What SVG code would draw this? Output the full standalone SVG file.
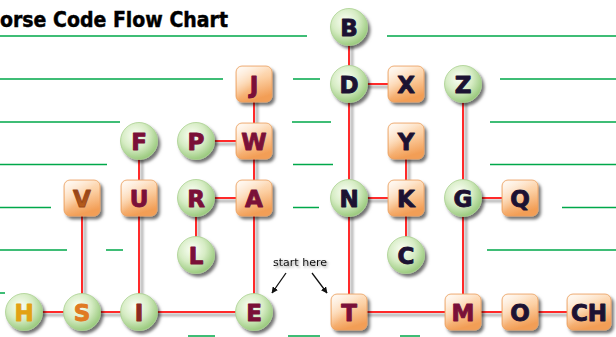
<svg xmlns="http://www.w3.org/2000/svg" width="616" height="337" viewBox="0 0 616 337">
<style>
.g{stroke:#00a84a;stroke-width:1.6;fill:none}
.r{stroke:#ff2a2a;stroke-width:2;fill:none}
.rs{stroke:#b8b8b8;stroke-width:3;fill:none}
.lt{font-family:"DejaVu Sans","Verdana",sans-serif;font-weight:bold;font-size:23px;text-anchor:middle;stroke-width:0.9;stroke-linejoin:round}
.dk{fill:#1c1232;stroke:#1c1232}
.mr{fill:#7a1038;stroke:#7a1038}
.c{fill:url(#cg);stroke:#a9d08f;stroke-width:0.8}
.s{fill:url(#sg);stroke:#eaa060;stroke-width:0.8}
.hl{fill:url(#hl)}
</style>
<defs>
<radialGradient id="cg" cx="0.4" cy="0.35" r="0.65">
<stop offset="0" stop-color="#fbfff6"/>
<stop offset="0.55" stop-color="#d6ecc4"/>
<stop offset="1" stop-color="#9ccb80"/>
</radialGradient>
<linearGradient id="sg" x1="0" y1="0" x2="0.3" y2="1">
<stop offset="0" stop-color="#fff1e2"/>
<stop offset="0.5" stop-color="#fcd0a4"/>
<stop offset="1" stop-color="#f29e56"/>
</linearGradient>
<linearGradient id="hl" x1="0" y1="0" x2="1" y2="1">
<stop offset="0" stop-color="#ffffff" stop-opacity="0.7"/>
<stop offset="0.5" stop-color="#ffffff" stop-opacity="0"/>
</linearGradient>
<linearGradient id="vg" x1="0" y1="0" x2="0" y2="1">
<stop offset="0" stop-color="#8a3a14"/>
<stop offset="1" stop-color="#c2661e"/>
</linearGradient>
<filter id="sh" x="-30%" y="-30%" width="170%" height="170%">
<feDropShadow dx="2.5" dy="3" stdDeviation="1.6" flood-color="#000" flood-opacity="0.55"/>
</filter>
<filter id="ts" x="-20%" y="-40%" width="140%" height="200%">
<feDropShadow dx="1.5" dy="1.5" stdDeviation="1.2" flood-color="#000" flood-opacity="0.45"/>
</filter>
<filter id="bl" x="-10%" y="-10%" width="120%" height="120%">
<feGaussianBlur stdDeviation="0.8"/>
</filter>
<marker id="ah" viewBox="0 0 10 10" refX="9" refY="5" markerWidth="5" markerHeight="5" orient="auto">
<path d="M0,0 L10,5 L0,10 z" fill="#111"/>
</marker>
</defs>
<rect width="616" height="337" fill="#ffffff"/>
<g id="title">
<text x="0" y="26.5" font-family="DejaVu Sans, Verdana, sans-serif" font-weight="bold" font-size="22" textLength="228" lengthAdjust="spacingAndGlyphs" fill="#000" stroke="#000" stroke-width="0.5">orse Code Flow Chart</text>
</g>
<g id="gridlines">
<path class="g" d="M0,36H307M387,36H616M0,79H223M293,79H320M500,79H616M0,122H120M292,122H331M490,122H616M0,164.5H107M293,164.5H333M490,164.5H616M0,207.5H51M293,207.5H319M562,207.5H616M0,250H67M106,250H123M487,250H616M0,293H5M188,336H215M288,336H320M400,336H420"/>
</g>
<g id="connectors">
<g filter="url(#bl)" transform="translate(3,3)">
<path class="rs" d="M349,27V312M254,84V312M463,84V312M139,141V312M82,198V312M196,198V255M406,141V255M349,84H406M196,141H254M196,198H254M349,198H406M463,198H520M24,312H254M349,312H589"/>
</g>
<line id="e-B-D" class="r" x1="349" y1="27" x2="349" y2="84"/>
<line id="e-D-N" class="r" x1="349" y1="84" x2="349" y2="198"/>
<line id="e-N-T" class="r" x1="349" y1="198" x2="349" y2="312"/>
<line id="e-D-X" class="r" x1="349" y1="84" x2="406" y2="84"/>
<line id="e-J-W" class="r" x1="254" y1="84" x2="254" y2="141"/>
<line id="e-W-A" class="r" x1="254" y1="141" x2="254" y2="198"/>
<line id="e-A-E" class="r" x1="254" y1="198" x2="254" y2="312"/>
<line id="e-P-W" class="r" x1="196" y1="141" x2="254" y2="141"/>
<line id="e-R-A" class="r" x1="196" y1="198" x2="254" y2="198"/>
<line id="e-R-L" class="r" x1="196" y1="198" x2="196" y2="255"/>
<line id="e-Z-G" class="r" x1="463" y1="84" x2="463" y2="198"/>
<line id="e-G-M" class="r" x1="463" y1="198" x2="463" y2="312"/>
<line id="e-G-Q" class="r" x1="463" y1="198" x2="520" y2="198"/>
<line id="e-Y-K" class="r" x1="406" y1="141" x2="406" y2="198"/>
<line id="e-K-C" class="r" x1="406" y1="198" x2="406" y2="255"/>
<line id="e-N-K" class="r" x1="349" y1="198" x2="406" y2="198"/>
<line id="e-F-U" class="r" x1="139" y1="141" x2="139" y2="198"/>
<line id="e-U-I" class="r" x1="139" y1="198" x2="139" y2="312"/>
<line id="e-V-S" class="r" x1="82" y1="198" x2="82" y2="312"/>
<line id="e-H-S" class="r" x1="24" y1="312" x2="82" y2="312"/>
<line id="e-S-I" class="r" x1="82" y1="312" x2="139" y2="312"/>
<line id="e-I-E" class="r" x1="139" y1="312" x2="254" y2="312"/>
<line id="e-T-M" class="r" x1="349" y1="312" x2="463" y2="312"/>
<line id="e-M-O" class="r" x1="463" y1="312" x2="520" y2="312"/>
<line id="e-O-CH" class="r" x1="520" y1="312" x2="589" y2="312"/>
<line id="a1" x1="286" y1="273" x2="272" y2="293" stroke="#111" stroke-width="1.3" marker-end="url(#ah)"/>
<line id="a2" x1="312" y1="273" x2="327" y2="293" stroke="#111" stroke-width="1.3" marker-end="url(#ah)"/>
</g>
<g id="start-label">
<text x="300" y="266" font-family="DejaVu Sans, Verdana, sans-serif" font-size="11" text-anchor="middle" fill="#111" filter="url(#ts)">start here</text>
</g>
<g id="node-B"><circle class="c" cx="349" cy="27" r="18.5" filter="url(#sh)"/><text class="lt dk" x="349" y="35.5">B</text></g>
<g id="node-D"><circle class="c" cx="349" cy="84" r="18.5" filter="url(#sh)"/><text class="lt dk" x="349" y="92.5">D</text></g>
<g id="node-X"><rect class="s" x="388" y="66" width="36" height="36" rx="6" filter="url(#sh)"/><rect class="hl" x="389" y="67" width="34" height="34" rx="5"/><text class="lt dk" x="406" y="92.5">X</text></g>
<g id="node-Z"><circle class="c" cx="463" cy="84" r="18.5" filter="url(#sh)"/><text class="lt dk" x="463" y="92.5">Z</text></g>
<g id="node-J"><rect class="s" x="236" y="66" width="36" height="36" rx="6" filter="url(#sh)"/><rect class="hl" x="237" y="67" width="34" height="34" rx="5"/><text class="lt mr" x="254" y="92.5">J</text></g>
<g id="node-F"><circle class="c" cx="139" cy="141" r="18.5" filter="url(#sh)"/><text class="lt mr" x="139" y="149.5">F</text></g>
<g id="node-P"><circle class="c" cx="196" cy="141" r="18.5" filter="url(#sh)"/><text class="lt mr" x="196" y="149.5">P</text></g>
<g id="node-W"><rect class="s" x="236" y="123" width="36" height="36" rx="6" filter="url(#sh)"/><rect class="hl" x="237" y="124" width="34" height="34" rx="5"/><text class="lt mr" x="254" y="149.5">W</text></g>
<g id="node-Y"><rect class="s" x="388" y="123" width="36" height="36" rx="6" filter="url(#sh)"/><rect class="hl" x="389" y="124" width="34" height="34" rx="5"/><text class="lt dk" x="406" y="149.5">Y</text></g>
<g id="node-V"><rect class="s" x="64" y="180" width="36" height="36" rx="6" filter="url(#sh)"/><rect class="hl" x="65" y="181" width="34" height="34" rx="5"/><text class="lt" fill="url(#vg)" stroke="#9a4818" x="82" y="206.5">V</text></g>
<g id="node-U"><rect class="s" x="121" y="180" width="36" height="36" rx="6" filter="url(#sh)"/><rect class="hl" x="122" y="181" width="34" height="34" rx="5"/><text class="lt mr" x="139" y="206.5">U</text></g>
<g id="node-R"><circle class="c" cx="196" cy="198" r="18.5" filter="url(#sh)"/><text class="lt mr" x="196" y="206.5">R</text></g>
<g id="node-A"><rect class="s" x="236" y="180" width="36" height="36" rx="6" filter="url(#sh)"/><rect class="hl" x="237" y="181" width="34" height="34" rx="5"/><text class="lt mr" x="254" y="206.5">A</text></g>
<g id="node-N"><circle class="c" cx="349" cy="198" r="18.5" filter="url(#sh)"/><text class="lt dk" x="349" y="206.5">N</text></g>
<g id="node-K"><rect class="s" x="388" y="180" width="36" height="36" rx="6" filter="url(#sh)"/><rect class="hl" x="389" y="181" width="34" height="34" rx="5"/><text class="lt dk" x="406" y="206.5">K</text></g>
<g id="node-G"><circle class="c" cx="463" cy="198" r="18.5" filter="url(#sh)"/><text class="lt dk" x="463" y="206.5">G</text></g>
<g id="node-Q"><rect class="s" x="502" y="180" width="36" height="36" rx="6" filter="url(#sh)"/><rect class="hl" x="503" y="181" width="34" height="34" rx="5"/><text class="lt dk" x="520" y="206.5">Q</text></g>
<g id="node-L"><circle class="c" cx="196" cy="255" r="18.5" filter="url(#sh)"/><text class="lt mr" x="196" y="263.5">L</text></g>
<g id="node-C"><circle class="c" cx="406" cy="255" r="18.5" filter="url(#sh)"/><text class="lt dk" x="406" y="263.5">C</text></g>
<g id="node-H"><circle class="c" cx="24" cy="312" r="18.5" filter="url(#sh)"/><text class="lt" fill="#e2a214" stroke="#e2a214" x="24" y="320.5">H</text></g>
<g id="node-S"><circle class="c" cx="82" cy="312" r="18.5" filter="url(#sh)"/><text class="lt" fill="#e07a22" stroke="#e07a22" x="82" y="320.5">S</text></g>
<g id="node-I"><circle class="c" cx="139" cy="312" r="18.5" filter="url(#sh)"/><text class="lt" fill="#8a2a20" stroke="#8a2a20" x="139" y="320.5">I</text></g>
<g id="node-E"><circle class="c" cx="254" cy="312" r="18.5" filter="url(#sh)"/><text class="lt mr" x="254" y="320.5">E</text></g>
<g id="node-T"><rect class="s" x="331" y="294" width="36" height="36" rx="6" filter="url(#sh)"/><rect class="hl" x="332" y="295" width="34" height="34" rx="5"/><text class="lt mr" x="349" y="320.5">T</text></g>
<g id="node-M"><rect class="s" x="445" y="294" width="36" height="36" rx="6" filter="url(#sh)"/><rect class="hl" x="446" y="295" width="34" height="34" rx="5"/><text class="lt mr" x="463" y="320.5">M</text></g>
<g id="node-O"><rect class="s" x="502" y="294" width="36" height="36" rx="6" filter="url(#sh)"/><rect class="hl" x="503" y="295" width="34" height="34" rx="5"/><text class="lt dk" x="520" y="320.5">O</text></g>
<g id="node-CH"><rect class="s" x="567" y="294" width="44" height="36" rx="6" filter="url(#sh)"/><rect class="hl" x="568" y="295" width="42" height="34" rx="5"/><text class="lt dk" x="589" y="320.5" font-size="21">CH</text></g>
</svg>
